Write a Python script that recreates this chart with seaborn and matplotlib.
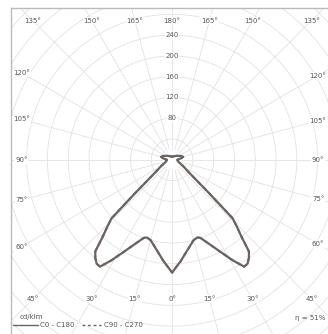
import numpy as np
import pandas as pd
import matplotlib
matplotlib.use('Agg')
import matplotlib.pyplot as plt
import seaborn as sns

sns.set_theme(style='white')
plt.rcParams['font.family'] = ['DejaVu Sans']

# intensidad luminosa (cd/klm) segun angulo desde el nadir
angulos = [0, 5, 10, 15, 18, 20, 24, 28, 31, 34, 36, 38, 40, 42, 44, 46, 47, 48,
           50, 55, 60, 70, 80, 90, 100, 105, 115, 130, 150, 180]
c0_c180 = [217, 195, 175, 160, 157, 160, 178, 202, 225, 248, 247, 240, 230, 200, 180, 162, 120, 95,
           62, 34, 25, 14, 11, 10, 18, 22, 18, 12, 8, 6]
c90_c270 = [217, 195, 175, 160, 157, 160, 178, 202, 225, 248, 247, 240, 230, 200, 180, 162, 120, 95,
            62, 34, 25, 14, 11, 10, 18, 22, 18, 12, 8, 6]

anillos = [40, 80, 120, 160, 200, 240, 280, 320, 360, 400, 440]
anillos_etiqueta = [80, 120, 160, 200, 240]
angulos_borde = [0, 15, 30, 45, 60, 75, 90, 105, 120, 135, 150, 165, 180]
rendimiento = "η = 51%"

gris_grid = "#e2e2e2"
gris_texto = "#555555"
color_curva = "#6a6360"


def a_xy(ang, valor, lado):
    t = np.radians(np.asarray(ang, dtype=float))
    r = np.asarray(valor, dtype=float)
    return lado * r * np.sin(t), -r * np.cos(t)


def curva_completa(valores):
    xl, yl = a_xy(angulos[::-1], valores[::-1], -1)
    xr, yr = a_xy(angulos, valores, 1)
    return pd.DataFrame({"x": np.concatenate([xl, xr]), "y": np.concatenate([yl, yr])})


fig = plt.figure(figsize=(3.28, 3.34), dpi=100)
ax = fig.add_axes([11 / 328, 0, 1 - 11 / 328, 1 - 8 / 334])
ax.set_xlim(-310, 300)
ax.set_ylim(-335, 292)
ax.set_aspect('equal', adjustable='box')

# rejilla polar
tt = np.linspace(0, 2 * np.pi, 400)
for r in anillos:
    ax.plot(r * np.cos(tt), r * np.sin(tt), color=gris_grid, lw=0.6, zorder=1)
for a in range(0, 360, 15):
    x, y = a_xy([a, a], [20, 480], 1)
    ax.plot(x, y, color=gris_grid, lw=0.6, zorder=1)

# curvas
d90 = curva_completa(c90_c270)
d0 = curva_completa(c0_c180)
sns.lineplot(data=d90, x="x", y="y", sort=False, estimator=None, ax=ax,
             color=color_curva, lw=1.4, linestyle=(0, (2, 2)), zorder=3)
sns.lineplot(data=d0, x="x", y="y", sort=False, estimator=None, ax=ax,
             color=color_curva, lw=1.6, zorder=4)

# etiquetas de angulo en el borde
H = 268
for a in angulos_borde:
    for lado in ([-1, 1] if 0 < a < 180 else [1]):
        W = 290 if lado < 0 else 281
        s, c = np.sin(np.radians(a)), -np.cos(np.radians(a))
        t = min(W / abs(s) if s != 0 else 1e9, H / abs(c) if abs(c) > 1e-9 else 1e9)
        ax.text(lado * s * t, c * t, f"{a}°", ha='center', va='center', fontsize=5,
                color=gris_texto, zorder=5,
                bbox=dict(boxstyle='square,pad=0.1', fc='white', ec='none'))

for v in anillos_etiqueta:
    ax.text(0, v, str(v), ha='center', va='center', fontsize=5, color=gris_texto, zorder=5,
            bbox=dict(boxstyle='square,pad=0.1', fc='white', ec='none'))

for lado in ['right', 'bottom']:
    ax.spines[lado].set_visible(False)
for lado in ['left', 'top']:
    ax.spines[lado].set_color('#bbbbbb')
    ax.spines[lado].set_linewidth(1.0)
ax.set_xticks([])
ax.set_yticks([])
ax.set_xlabel("")
ax.set_ylabel("")

# leyenda
fig.text(20 / 328, 1 - 317 / 334, "cd/klm", fontsize=5, color=gris_texto, va='center')
fig.add_artist(plt.Line2D([13 / 328, 38 / 328], [1 - 325 / 334] * 2, color=color_curva, lw=1.0))
fig.text(40 / 328, 1 - 325 / 334, "C0 - C180", fontsize=5, color=gris_texto, va='center')
fig.add_artist(plt.Line2D([82 / 328, 101 / 328], [1 - 325 / 334] * 2, color=color_curva, lw=1.0,
                          linestyle=(0, (2, 2))))
fig.text(104 / 328, 1 - 325 / 334, "C90 - C270", fontsize=5, color=gris_texto, va='center')
fig.text(325 / 328, 1 - 318 / 334, rendimiento, fontsize=5, color=gris_texto, va='center', ha='right')

fig.savefig("out.png", dpi=100)
plt.close(fig)
